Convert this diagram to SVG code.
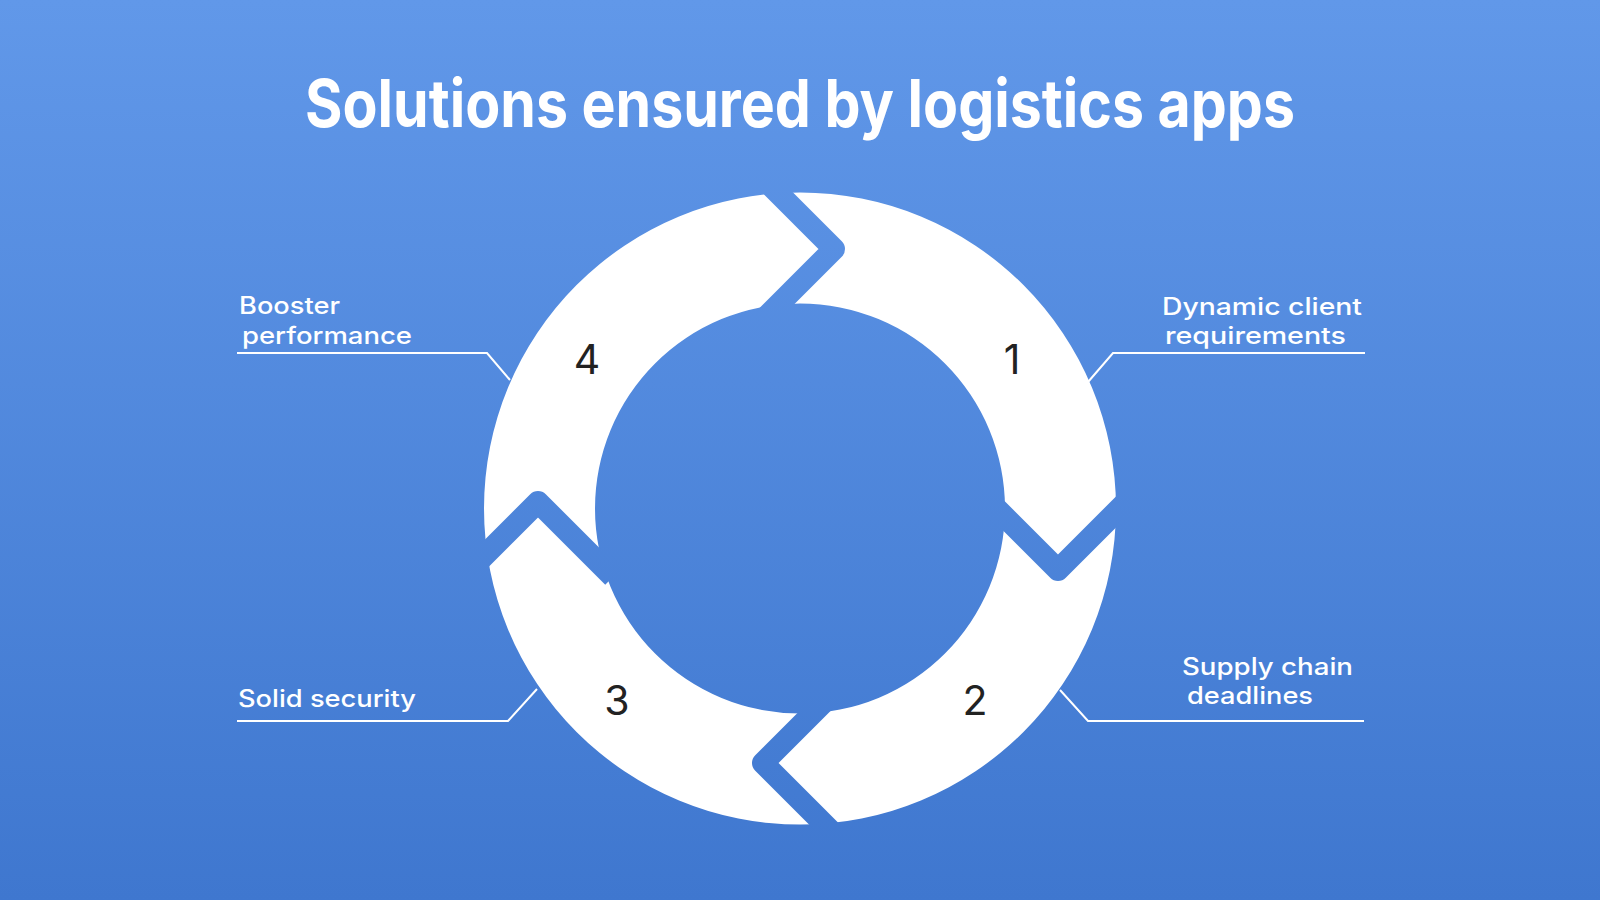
<svg xmlns="http://www.w3.org/2000/svg" width="1600" height="900" viewBox="0 0 1600 900">
  <defs>
    <linearGradient id="bg" gradientUnits="userSpaceOnUse" x1="0" y1="0" x2="0" y2="900">
      <stop offset="0" stop-color="#6198E9"/>
      <stop offset="1" stop-color="#3F77CF"/>
    </linearGradient>
  </defs>
  <style>
    .title { font-family: Inter, "Liberation Sans", sans-serif; font-weight: 700; font-size: 66px; fill: #ffffff; }
    .label { font-family: Inter, "Open Sans", "Liberation Sans", sans-serif; font-weight: 500; font-size: 24px; fill: #ffffff; }
    .num { font-family: Inter, "Liberation Sans", sans-serif; font-weight: 400; font-size: 41px; fill: #222222; text-anchor: middle; }
    .lead { fill: none; stroke: #ffffff; stroke-width: 2; }
    .cut { fill: none; stroke: url(#bg); stroke-width: 22; stroke-linejoin: round; stroke-linecap: butt; }
  </style>
  <rect x="0" y="0" width="1600" height="900" fill="url(#bg)"/>
  <text class="title" x="800" y="127" text-anchor="middle" textLength="990" lengthAdjust="spacingAndGlyphs">Solutions ensured by logistics apps</text>

  <g id="ring">
    <path fill="#ffffff" fill-rule="evenodd" d="M484 508.5 A316 316 0 1 1 1116 508.5 A316 316 0 1 1 484 508.5 Z M595 508.5 A205 205 0 1 0 1005 508.5 A205 205 0 1 0 595 508.5 Z"/>
    <polyline class="cut" points="759,174 834,249 759,324"/>
    <polyline class="cut" points="983,495 1058,570 1133,495"/>
    <polyline class="cut" points="838,688 763,763 838,838"/>
    <polyline class="cut" points="463,577 538,502 613,577"/>
  </g>

  <g id="connectors">
    <path class="lead" d="M1365 353 H1113 L1088 382"/>
    <path class="lead" d="M1364 721 H1088 L1060 690"/>
    <path class="lead" d="M237 721 H508 L537 689"/>
    <path class="lead" d="M237 353 H487 L510 380"/>
  </g>

  <g id="node-1">
    <text class="num" x="1012" y="374">1</text>
    <text class="label" x="1162" y="315" textLength="200" lengthAdjust="spacingAndGlyphs">Dynamic client</text>
    <text class="label" x="1165" y="344" textLength="181" lengthAdjust="spacingAndGlyphs">requirements</text>
  </g>
  <g id="node-2">
    <text class="num" x="975" y="715">2</text>
    <text class="label" x="1182" y="675" textLength="171" lengthAdjust="spacingAndGlyphs">Supply chain</text>
    <text class="label" x="1187" y="704" textLength="126" lengthAdjust="spacingAndGlyphs">deadlines</text>
  </g>
  <g id="node-3">
    <text class="num" x="617" y="715">3</text>
    <text class="label" x="238" y="707" textLength="178" lengthAdjust="spacingAndGlyphs">Solid security</text>
  </g>
  <g id="node-4">
    <text class="num" x="587" y="374">4</text>
    <text class="label" x="239" y="314" textLength="101" lengthAdjust="spacingAndGlyphs">Booster</text>
    <text class="label" x="242" y="344" textLength="170" lengthAdjust="spacingAndGlyphs">performance</text>
  </g>
</svg>
